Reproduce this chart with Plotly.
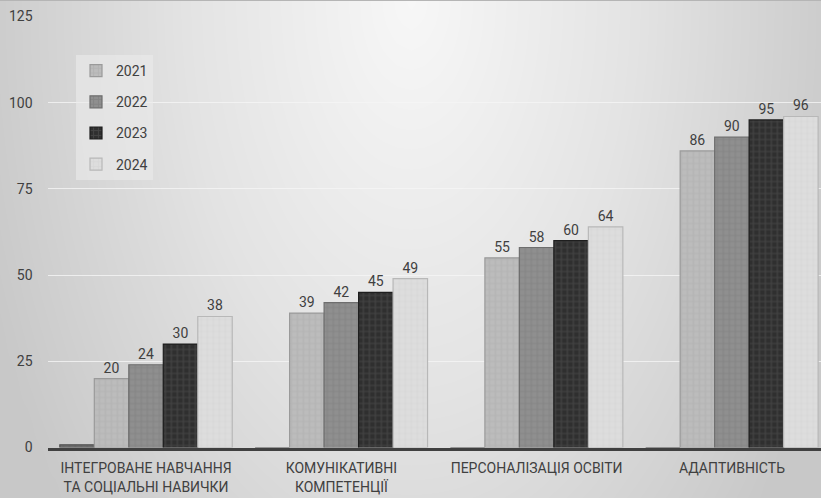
import numpy as np
import plotly.graph_objects as go

categories = ["ІНТЕГРОВАНЕ НАВЧАННЯ<br>ТА СОЦІАЛЬНІ НАВИЧКИ", "КОМУНІКАТИВНІ<br>КОМПЕТЕНЦІЇ",
              "ПЕРСОНАЛІЗАЦІЯ ОСВІТИ", "АДАПТИВНІСТЬ"]
series_names = ["", "2021", "2022", "2023", "2024"]
series_values = [
    [0.8, 0, 0, 0],
    [20, 39, 55, 86],
    [24, 42, 58, 90],
    [30, 45, 60, 95],
    [38, 49, 64, 96],
]
y_ticks = [0, 25, 50, 75, 100, 125]

fills = ["#6e6e6e", "#bcbcbc", "#8f8f8f", "#2f2f2f", "#dddddd"]
fgs = ["#5a5a5a", "#a9a9a9", "#7a7a7a", "#5a5a5a", "#d2d2d2"]
borders = ["#505050", "#9a9a9a", "#6e6e6e", "#1e1e1e", "#b8b8b8"]

W, H = 821, 498
fig = go.Figure()

# background gradient (decoration)
gx = np.linspace(-0.05, 1.05, 67)
gy = np.linspace(-0.05, 1.05, 45)
X, Y = np.meshgrid(gx, gy)
D = np.sqrt(((X - 0.5) / 0.55) ** 2 + ((Y - 1.0) / 1.6) ** 2)
Z = np.clip(D, 0, 1)
fig.add_trace(go.Heatmap(x=gx, y=gy, z=Z, zsmooth="best", showscale=False, hoverinfo="skip",
                         colorscale=[[0, "#f7f7f7"], [0.5, "#e3e3e3"], [1, "#c8c8c8"]],
                         zmin=0, zmax=1, xaxis="x", yaxis="y"))

xpos = list(range(len(categories)))
for i, name in enumerate(series_names):
    vals = series_values[i]
    fig.add_trace(go.Bar(
        x=xpos, y=vals, name=name, xaxis="x2", yaxis="y2",
        marker=dict(color=fills[i], line=dict(color=borders[i], width=1.2),
                    pattern=dict(shape="+", size=6, solidity=0.35, fgcolor=fgs[i], bgcolor=fills[i])),
        text=[str(v) for v in vals] if i > 0 else None,
        textposition="outside", textfont=dict(size=14, color="#404040"),
        cliponaxis=False, showlegend=(i > 0), legendgroup=name or "none",
    ))

x0 = 48.4 / W
fig.update_layout(
    width=W, height=H,
    margin=dict(l=0, r=0, t=0, b=0, autoexpand=False),
    paper_bgcolor="#dcdcdc", plot_bgcolor="rgba(0,0,0,0)",
    font=dict(family="Roboto, 'Noto Sans', sans-serif", size=14, color="#404040"),
    barmode="group", bargap=0.117, bargroupgap=0,
    xaxis=dict(domain=[0, 1], range=[0, 1], visible=False, fixedrange=True),
    yaxis=dict(domain=[0, 1], range=[0, 1], visible=False, fixedrange=True),
    xaxis2=dict(domain=[x0, 1], anchor="y2", range=[-0.5, (W - 146) / 195.3],
                tickvals=xpos, ticktext=categories, showgrid=False, automargin=False,
                showline=True, linecolor="#404040", linewidth=3,
                ticks="outside", ticklen=6, tickcolor="rgba(0,0,0,0)",
                tickfont=dict(size=14, color="#404040"), zeroline=False),
    yaxis2=dict(domain=[(H - 447.5) / H, (H - 16.5) / H], anchor="x2", range=[0, 125],
                tickvals=y_ticks, showgrid=True, gridcolor="rgba(245,245,245,0.8)", gridwidth=1,
                zeroline=False, showline=False, automargin=False,
                ticks="outside", ticklen=12, tickcolor="rgba(0,0,0,0)",
                tickfont=dict(size=14, color="#404040")),
    legend=dict(x=76 / W, y=1 - 55 / H, xanchor="left", yanchor="top",
                bgcolor="rgba(235,235,235,0.6)", font=dict(size=14, color="#404040"),
                tracegroupgap=10, traceorder="grouped", itemwidth=30),
    shapes=[dict(type="line", xref="paper", yref="paper", x0=0, x1=1, y0=1, y1=1,
                 line=dict(color="#b5b5b5", width=2))],
    showlegend=True,
)

fig.write_html("out.html", config={"displayModeBar": False},
               post_script="document.body.style.margin='0';document.body.style.overflow='hidden';")
